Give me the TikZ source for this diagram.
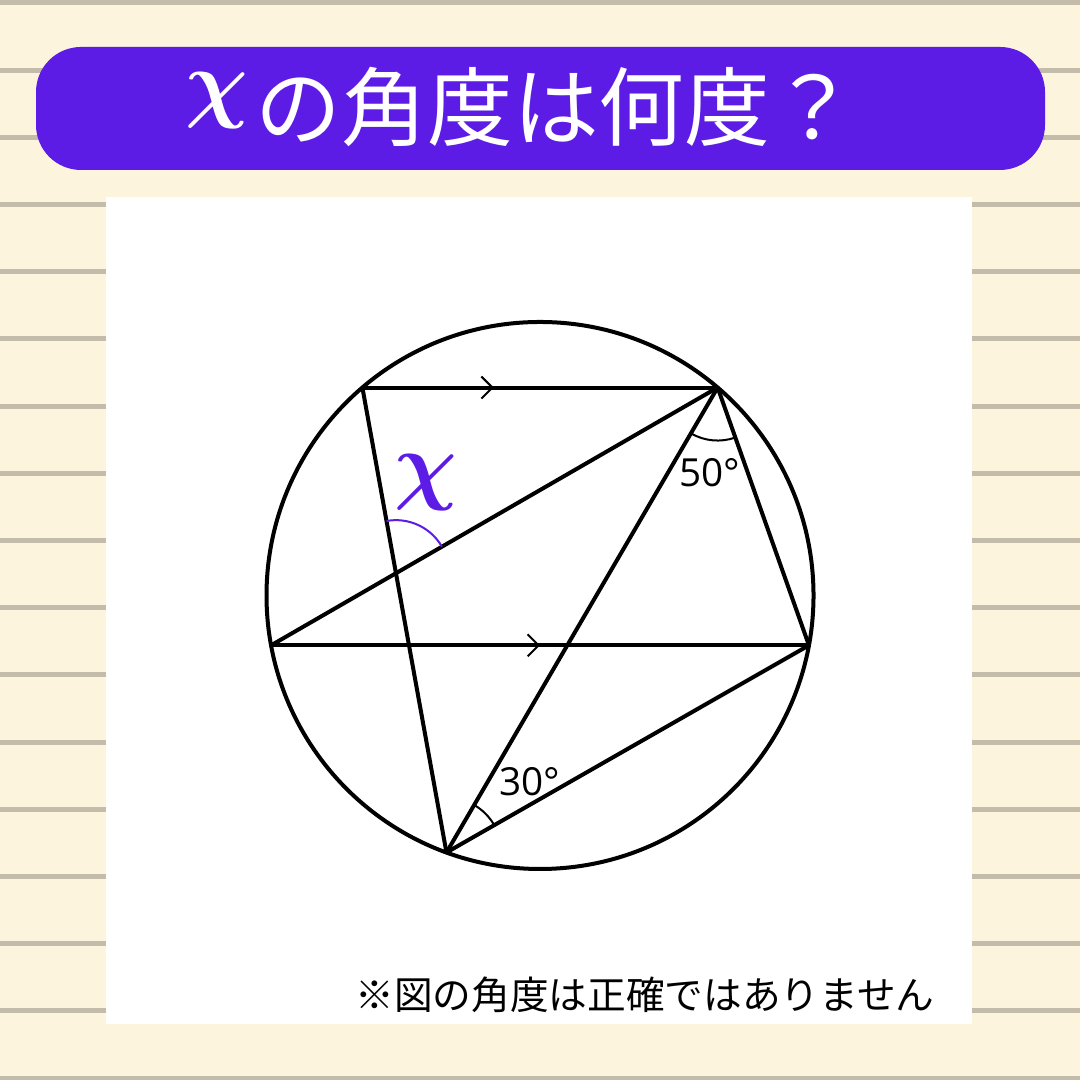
\documentclass[tikz,border=0pt]{standalone}
\usepackage{bm}
\usepackage{fontspec}
\newfontfamily\jpfont{Noto Sans CJK JP}
\newfontfamily\numfont{Open Sans}
\usetikzlibrary{angles,arrows.meta,decorations.markings,calc}
\definecolor{paper}{RGB}{253,244,222}
\definecolor{ruleline}{RGB}{196,188,170}
\definecolor{quizpurple}{RGB}{93,28,230}

\begin{document}
\begin{tikzpicture}[x=0.01cm,y=0.01cm]

      \useasboundingbox (0,0) rectangle (1080,1080);
      \fill[paper] (0,0) rectangle (1080,1080);
      \foreach \k in {0,...,16}
        \fill[ruleline] (0,{1077-67.2*\k-2.5}) rectangle (1080,{1077-67.2*\k+2.5});

      \fill[quizpurple, rounded corners=0.45cm] (36,910) rectangle (1045,1033);
      \fill[white] (106,56) rectangle (972,883);

      \begin{scope}[every node/.style={text=white, inner sep=0}]
        \node[font=\fontsize{35}{35}\selectfont] (chi) at (217,979) {$\bm{\chi}$};
        \node[anchor=west, font=\jpfont\fontsize{24.4}{24.4}\selectfont] (title) at (255,973) {の角度は何度？};
      \end{scope}

      \coordinate (O) at (540,484.5);
      \coordinate (A) at ($(O)+(130.5:273.5)$);
      \coordinate (B) at ($(O)+(49.5:273.5)$);
      \coordinate (C) at ($(O)+(190.5:273.5)$);
      \coordinate (D) at ($(O)+(-10.5:273.5)$);
      \coordinate (E) at ($(O)+(-110:273.5)$);
      \coordinate (I) at (intersection of A--E and B--C);

      \begin{scope}[line width=0.4mm, line join=round,
          parallel/.style={postaction={decorate}, decoration={markings,
            mark=at position #1 with {\arrow[line width=0.2mm]{Straight Barb[length=1.1mm,width=2.2mm]}}}}]
        \draw (O) circle[radius=273.5];
        \path (A) edge[parallel=0.37] (B);
        \path (C) edge[parallel=0.5] (D);
        \draw (A) -- (E);
        \draw (B) -- (C);
        \draw (B) -- (E);
        \draw (B) -- (D);
        \draw (D) -- (E);
      \end{scope}

      \begin{scope}[line width=0.2mm]
        \pic[draw=quizpurple, angle radius=0.53cm] {angle = B--I--A};
        \pic[draw, angle radius=0.53cm] {angle = E--B--D};
        \pic[draw, angle radius=0.55cm] {angle = D--E--B};
      \end{scope}

      \node[text=quizpurple, inner sep=0, font=\fontsize{27}{27}\selectfont] (xname) at (426,597) {$\bm{\chi}$};
      \begin{scope}[every node/.style={inner sep=0, font=\numfont\fontsize{11}{11}\selectfont}]
        \node (fifty)  at (710,607) {50°};
        \node (thirty) at (530,298) {30°};
      \end{scope}
      \node[inner sep=0, font=\jpfont\fontsize{11}{11}\selectfont] (remark) at (645,85) {※図の角度は正確ではありません};

    \end{tikzpicture}
\end{document}
